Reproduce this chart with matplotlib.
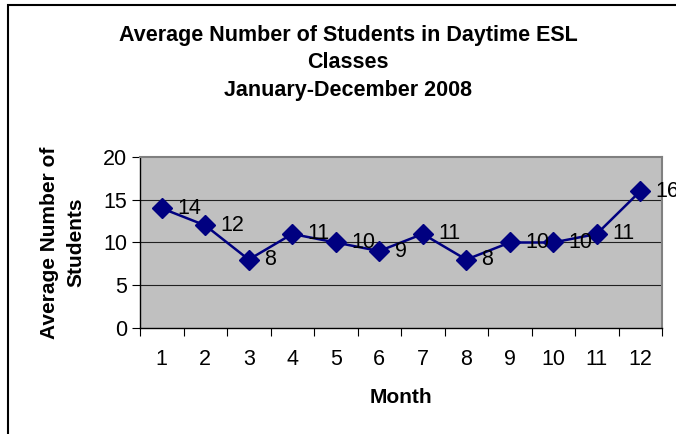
import matplotlib
matplotlib.use("Agg")
import matplotlib.pyplot as plt
from matplotlib.patches import Rectangle

plt.rcParams['font.family'] = ['Liberation Sans', 'DejaVu Sans']

months = [1, 2, 3, 4, 5, 6, 7, 8, 9, 10, 11, 12]
students = [14, 12, 8, 11, 10, 9, 11, 8, 10, 10, 11, 16]
y_ticks = [0, 5, 10, 15, 20]

W, H = 676, 434
fig = plt.figure(figsize=(W / 100, H / 100), dpi=100)

# plot area in pixels: left 140, right 662, top 157, bottom 328
ax = fig.add_axes([140 / W, 1 - 328 / H, (662 - 140) / W, (328 - 157) / H])
ax.set_facecolor('#C0C0C0')
for s in ax.spines.values():
    s.set_color('#808080')
    s.set_linewidth(1.5)
ax.spines['left'].set_color('black')
ax.spines['left'].set_linewidth(1)
ax.spines['bottom'].set_color('black')
ax.spines['bottom'].set_linewidth(1)

ax.set_xlim(0.5, 12.5)
ax.set_ylim(0, 20)
ax.set_yticks(y_ticks)
for t in y_ticks[1:-1]:
    ax.axhline(t, color='#202020', lw=0.8, zorder=1)

ax.plot(months, students, color='#000080', lw=1.8, marker='D',
        markersize=10.5, markerfacecolor='#000080', markeredgecolor='#000080', zorder=3)
for m, v in zip(months, students):
    ax.annotate(str(v), (m, v), xytext=(11, 0), textcoords='offset points',
                va='center', ha='left', fontsize=15.5, annotation_clip=False, zorder=4)

# category ticks between months, labels at centers
ax.set_xticks([i + 0.5 for i in range(0, 13)])
ax.set_xticklabels([])
ax.set_xticks(months, minor=True)
ax.set_xticklabels([str(m) for m in months], minor=True, fontsize=15.5)
ax.tick_params(axis='x', which='major', length=6, direction='out')
ax.tick_params(axis='x', which='minor', length=0, pad=15)
ax.tick_params(axis='y', length=6, direction='out', labelsize=15.5, pad=3)

ax.set_xlabel('Month', fontsize=15, fontweight='bold', labelpad=13)
ax.set_ylabel('Average Number of\nStudents', fontsize=15, fontweight='bold',
              labelpad=13, linespacing=1.5)

fig.text(348 / W, 1 - 63 / H,
         'Average Number of Students in Daytime ESL\nClasses\nJanuary-December 2008',
         ha='center', va='center', fontsize=15.5, fontweight='bold', linespacing=1.4)

# outer chart frame (cropped on right and bottom)
fig.add_artist(Rectangle((8 / W, -0.1), 2, 1.1 - 5 / H, transform=fig.transFigure,
                         fill=False, lw=1.5, edgecolor='black'))

fig.savefig('out.png', dpi=100)
